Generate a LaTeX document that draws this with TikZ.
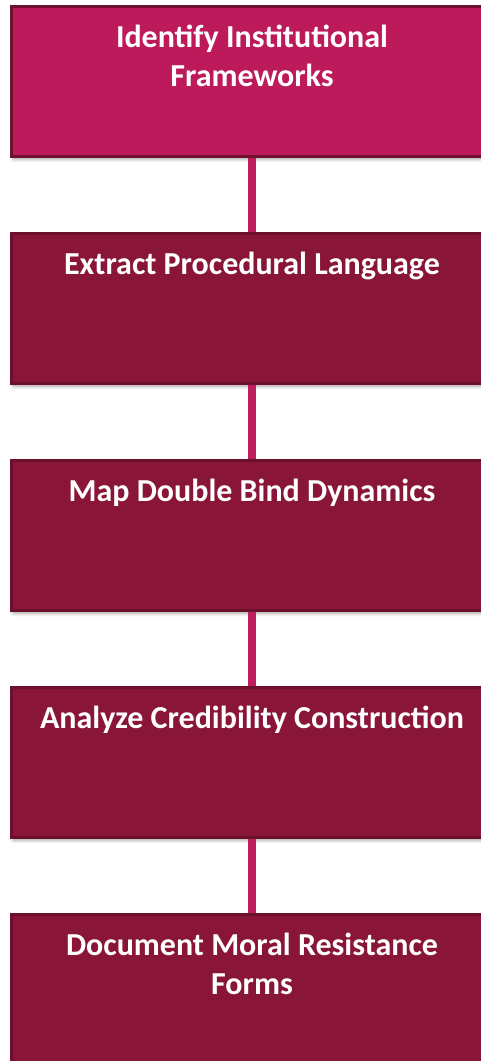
\documentclass[tikz,border=0pt]{standalone}
\usepackage{fontspec}
\setmainfont{Carlito}
\usetikzlibrary{positioning, shadows.blur}

\definecolor{topred}{RGB}{188,26,90}
\definecolor{topedge}{RGB}{110,18,48}
\definecolor{stagered}{RGB}{137,21,56}
\definecolor{stageedge}{RGB}{108,16,44}
\definecolor{linkred}{RGB}{190,30,94}

\begin{document}
\begin{tikzpicture}[
			x=1pt, y=1pt,
			stagebox/.style={
				draw=stageedge, fill=stagered, line width=3pt,
				minimum width=481pt, minimum height=150pt, inner sep=0pt,
				blur shadow={shadow xshift=1.5pt, shadow yshift=-3pt, shadow blur radius=3pt, shadow opacity=35}
			},
			topbox/.style={stagebox, draw=topedge, fill=topred},
			boxtext/.style={text=white, font=\bfseries\fontsize{32}{38.5}\selectfont, align=center, inner sep=0pt},
			link/.style={draw=linkred, line width=8pt}
			]
			\useasboundingbox (0,0) rectangle (481,-1061);
			
			% 1. INSTITUTIONAL FRAMEWORKS (Top)
			\node[topbox] (frame) at (252,-81.5) {};
			\node[boxtext, below=20pt of frame.north] (frametext) {Identify Institutional\\Frameworks};
			
			% 2. PROCEDURAL LANGUAGE
			\node[stagebox, below=74pt of frame] (extract) {};
			\node[boxtext, below=20pt of extract.north] (extracttext) {Extract Procedural Language};
			
			% 3. DOUBLE BIND
			\node[stagebox, below=74pt of extract] (bind) {};
			\node[boxtext, below=20pt of bind.north] (bindtext) {Map Double Bind Dynamics};
			
			% 4. CREDIBILITY
			\node[stagebox, below=74pt of bind] (cred) {};
			\node[boxtext, below=20pt of cred.north] (credtext) {Analyze Credibility Construction};
			
			% 5. MORAL RESISTANCE (Bottom)
			\node[stagebox, below=74pt of cred] (resist) {};
			\node[boxtext, below=20pt of resist.north] (resisttext) {Document Moral Resistance\\Forms};
			
			% connectors between the stages
			\draw[link] (frame.south) -- (extract.north);
			\draw[link] (extract.south) -- (bind.north);
			\draw[link] (bind.south) -- (cred.north);
			\draw[link] (cred.south) -- (resist.north);
		\end{tikzpicture}
\end{document}
